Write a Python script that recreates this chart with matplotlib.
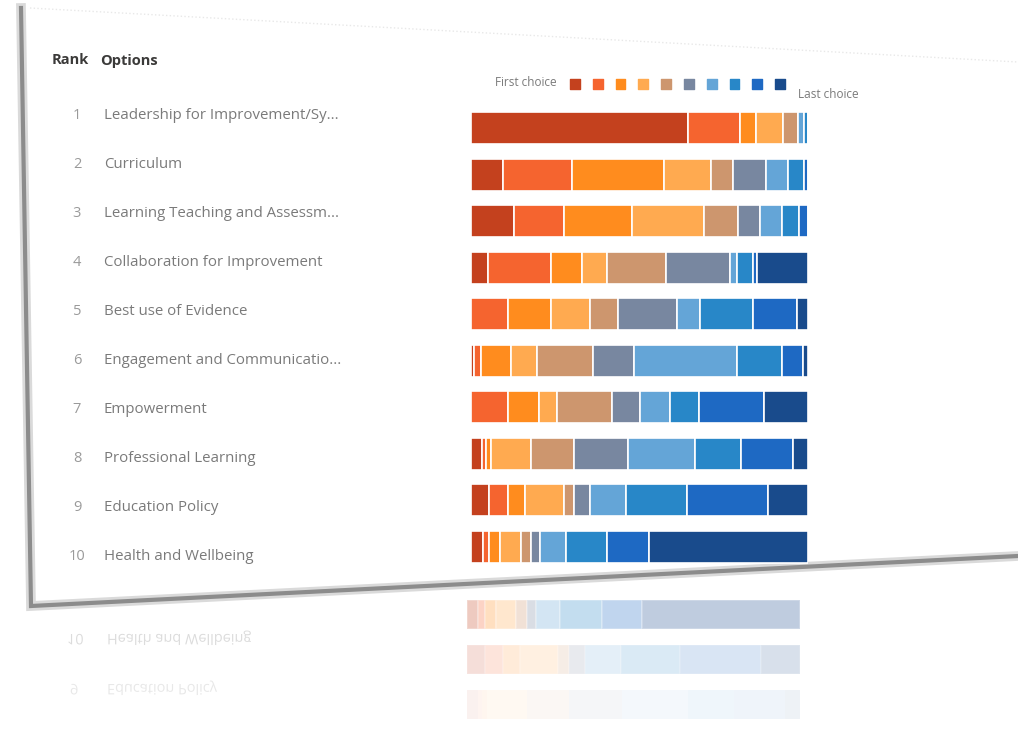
import matplotlib.pyplot as plt
from matplotlib.patches import PathPatch
from matplotlib.lines import Line2D
from matplotlib.textpath import TextPath
from matplotlib.font_manager import FontProperties
from matplotlib.transforms import Affine2D

plt.rcParams['font.family'] = ['Open Sans', 'DejaVu Sans']

# Options in rank order
ranks = ['1', '2', '3', '4', '5', '6', '7', '8', '9', '10']
options = ['Leadership for Improvement/Sy...', 'Curriculum',
           'Learning Teaching and Assessm...', 'Collaboration for Improvement',
           'Best use of Evidence', 'Engagement and Communicatio...',
           'Empowerment', 'Professional Learning', 'Education Policy',
           'Health and Wellbeing']

# Share of responses (%) per choice position, one value per option
choice_1 = [63.8, 9.2, 12.5, 5.0, 0.0, 1.0, 0.0, 3.0, 5.0, 3.3]
choice_2 = [15.3, 20.3, 14.5, 18.0, 10.5, 2.0, 10.5, 1.2, 5.3, 2.0]
choice_3 = [4.8, 26.7, 19.5, 9.0, 12.2, 8.3, 8.7, 1.5, 4.8, 3.0]
choice_4 = [8.0, 13.7, 20.9, 7.2, 11.0, 7.5, 5.3, 11.3, 11.0, 6.0]
choice_5 = [4.5, 6.3, 9.7, 17.0, 8.0, 16.0, 15.5, 12.0, 3.0, 3.0]
choice_6 = [0.0, 9.8, 6.5, 18.5, 17.0, 11.7, 7.8, 15.3, 4.5, 2.6]
choice_7 = [1.7, 6.5, 6.2, 2.0, 6.5, 29.5, 8.7, 18.8, 10.2, 7.2]
choice_8 = [1.1, 4.5, 4.9, 4.6, 15.0, 12.8, 8.0, 13.0, 17.0, 12.0]
choice_9 = [0.0, 1.2, 2.7, 1.3, 12.6, 6.0, 18.5, 14.5, 23.0, 11.8]
choice_10 = [0.0, 0.0, 0.0, 14.7, 3.0, 1.5, 12.5, 4.3, 11.2, 45.7]

choices = [choice_1, choice_2, choice_3, choice_4, choice_5,
           choice_6, choice_7, choice_8, choice_9, choice_10]
colors = ['#C4411E', '#F5642F', '#FF8C1E', '#FFAA50', '#CD966E',
          '#7887A0', '#64A5D7', '#2887C8', '#1E69C3', '#194B8C']

W, H = 1018, 748
fig = plt.figure(figsize=(W / 100, H / 100), dpi=100)
fig.patch.set_facecolor('white')


def fx(px):
    return px / W


def fy(py):
    return 1 - py / H


# tilted card edge with its shadow (kept behind the axes)
edge_x = [fx(21), fx(31), fx(1018)]
edge_y = [fy(8), fy(606), fy(556)]
fig.add_artist(Line2D(edge_x, edge_y, transform=fig.transFigure,
                      color='#dadada', lw=7, solid_joinstyle='miter',
                      zorder=-2))
fig.add_artist(Line2D(edge_x, edge_y, transform=fig.transFigure,
                      color='#8c8c8c', lw=3, solid_joinstyle='miter',
                      zorder=-2))
fig.add_artist(Line2D([fx(30), fx(1018)], [fy(8), fy(62)],
                      transform=fig.transFigure, color='#e8e8e8', lw=1,
                      ls=':', zorder=-2))

# header
fig.text(fx(52), fy(60), 'Rank', fontsize=10.5, fontweight='bold',
         color='#3b3a39', va='center')
fig.text(fx(100), fy(61), 'Options', fontsize=10.5, fontweight='bold',
         color='#3b3a39', va='center')

# row labels
lab = fig.add_axes([0, fy(581.5), 1, (581.5 - 90.5) / H])
lab.set_xlim(0, W)
lab.set_ylim(len(options) - 0.5, -0.5)
lab.axis('off')
for i, (r, name) in enumerate(zip(ranks, options)):
    lab.text(77, i, r, ha='center', va='center', fontsize=10.5,
             color='#9a9a9a')
    lab.text(104, i, name, ha='left', va='center', fontsize=10.8,
             color='#7a7a7a')

# stacked bars
ax = fig.add_axes([fx(471), fy(570), fx(808) - fx(471), (570 - 105) / H])
totals = [sum(c[i] for c in choices) for i in range(len(options))]
left = [0.0] * len(options)
for vals, col in zip(choices, colors):
    share = [v / t for v, t in zip(vals, totals)]
    ax.barh(range(len(options)), share, left=left, height=0.68, color=col,
            edgecolor='white', linewidth=1.2)
    left = [a + b for a, b in zip(left, share)]
ax.set_xlim(0, 1)
ax.set_ylim(len(options) - 0.5, -0.5)
ax.axis('off')

# legend
leg = fig.add_axes([fx(563.6), fy(94), fx(791.4) - fx(563.6), 20 / H])
leg.scatter(range(len(colors)), [0] * len(colors), marker='s', s=50,
            c=colors)
leg.set_xlim(-0.5, len(colors) - 0.5)
leg.set_ylim(-1, 1)
leg.axis('off')
fig.text(fx(557), fy(82), 'First choice', ha='right', va='center',
         fontsize=8.5, color='#7a7a7a')
fig.text(fx(798), fy(95), 'Last choice', ha='left', va='center',
         fontsize=8.5, color='#7a7a7a')

# faded reflection under the card
refl = fig.add_axes([fx(467), fy(727), fx(800) - fx(467), (727 - 592) / H])
fade = [0.28, 0.17, 0.07]
for k, a in enumerate(fade):
    i = len(options) - 1 - k
    left_r = 0.0
    for vals, col in zip(choices, colors):
        w = vals[i] / totals[i]
        refl.barh(k, w, left=left_r, height=0.66, color=col, alpha=a,
                  edgecolor='white', linewidth=1.2)
        left_r += w
refl.set_xlim(0, 1)
refl.set_ylim(2.5, -0.5)
refl.axis('off')

fp = FontProperties(family='Open Sans')
for (txt, x, y, c) in [('10', 67, 634, '#dcdcdc'),
                       (options[9], 107, 634, '#dcdcdc'),
                       (ranks[8], 70, 684, '#e8e8e8'),
                       (options[8], 107, 684, '#e8e8e8')]:
    tp = TextPath((0, 0), txt, prop=fp, size=14.5)
    fig.patches.append(PathPatch(tp, transform=Affine2D().scale(1, -1)
                                 .translate(x, H - y), facecolor=c,
                                 edgecolor='none'))

plt.savefig('out.png', dpi=100)
